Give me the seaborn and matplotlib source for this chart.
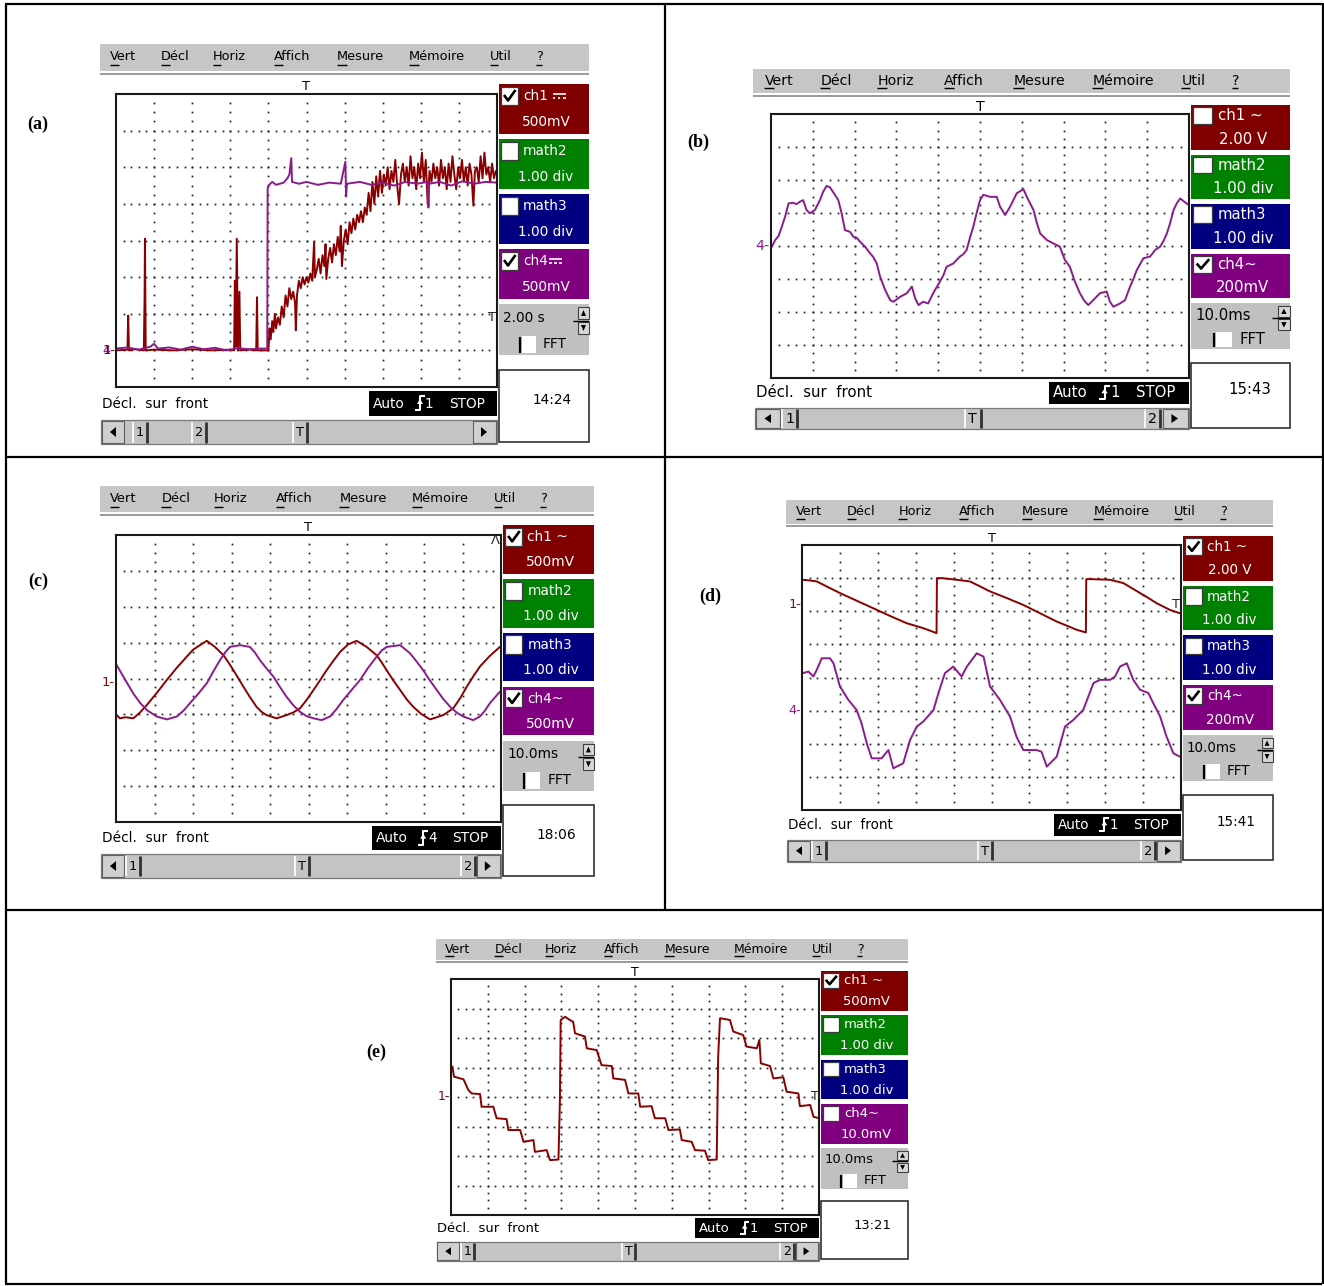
import numpy as np
import pandas as pd
import matplotlib
matplotlib.use("Agg")
import matplotlib.pyplot as plt
import seaborn as sns
from matplotlib.patches import Rectangle, Polygon
from matplotlib.textpath import TextPath
from matplotlib.font_manager import FontProperties

sns.set_style("white")
plt.rcParams["font.family"] = ["DejaVu Sans", "Noto Sans", "Noto Sans CJK SC"]

W, H = 1324, 1286

# ------------------------------------------------------------------ data
menu_items = ["Vert", "Décl", "Horiz", "Affich", "Mesure", "Mémoire", "Util", "?"]
panel_labels = ["(a)", "(b)", "(c)", "(d)", "(e)"]
clock_times = ["14:24", "15:43", "18:06", "15:41", "13:21"]
timebases = ["2.00 s", "10.0ms", "10.0ms", "10.0ms", "10.0ms"]
ch1_names = ["ch1", "ch1 ~", "ch1 ~", "ch1 ~", "ch1 ~"]
ch1_dc = [True, False, False, False, False]
ch1_scales = ["500mV", "2.00 V", "500mV", "2.00 V", "500mV"]
ch4_names = ["ch4", "ch4~", "ch4~", "ch4~", "ch4~"]
ch4_dc = [True, False, False, False, False]
ch4_scales = ["500mV", "200mV", "500mV", "200mV", "10.0mV"]
math_names = ["math2", "math3"]
math_scale = "1.00 div"
ch1_on = [True, False, True, True, True]
ch4_on = [True, True, True, True, False]
trig_src = ["1", "1", "4", "1", "1"]
status_text = "Décl.  sur  front"
mode_text = ["Auto", "STOP"]

# traces: (time in divisions, level in divisions from bottom)
a_ch4 = [(0, 1.05), (0.3, 1.08), (0.6, 1.02), (0.9, 1.1), (1.0, 1.18), (1.1, 1.05), (1.4, 1.08),
         (1.7, 1.02), (2.0, 1.1), (2.3, 1.03), (2.6, 1.07), (2.9, 1.0), (3.2, 1.06), (3.5, 1.03),
         (3.8, 1.05), (3.97, 1.05), (3.98, 5.4), (4.0, 5.5), (4.1, 5.6), (4.2, 5.52), (4.4, 5.58),
         (4.5, 5.7), (4.55, 5.8), (4.6, 6.25), (4.62, 5.6), (4.8, 5.55), (5.0, 5.6), (5.3, 5.52),
         (5.6, 5.58), (5.9, 5.55), (6.02, 6.15), (6.04, 5.2), (6.06, 5.55), (6.4, 5.6), (6.7, 5.52),
         (7.0, 5.58), (7.3, 5.5), (7.6, 5.6), (7.9, 5.55), (8.18, 5.6), (8.2, 4.9), (8.22, 5.55),
         (8.5, 5.6), (8.8, 5.5), (9.1, 5.62), (9.4, 5.55), (9.7, 5.6), (10.0, 5.58)]
a_ch1 = [(0, 1.0), (0.3, 1.02), (0.32, 1.95), (0.34, 1.0), (0.5, 1.03), (0.73, 1.0), (0.75, 2.45),
         (0.76, 4.05), (0.78, 1.0), (1.0, 1.02), (1.5, 1.0), (2.0, 1.03), (2.5, 1.0), (3.0, 1.02),
         (3.1, 1.0), (3.12, 2.9), (3.14, 1.1), (3.17, 4.05), (3.2, 1.0), (3.24, 2.6), (3.26, 1.0),
         (3.5, 1.02), (3.68, 1.0), (3.7, 2.45), (3.72, 1.0), (4.0, 1.0),
         (4.03, 1.6), (4.06, 1.3), (4.10, 1.8), (4.13, 1.5), (4.17, 2.0), (4.20, 1.6), (4.25, 1.9),
         (4.30, 1.7), (4.35, 2.2), (4.40, 1.9), (4.45, 2.5), (4.50, 2.2), (4.55, 2.7), (4.60, 2.4),
         (4.65, 2.6), (4.70, 2.3), (4.72, 1.55), (4.75, 2.5), (4.80, 2.9), (4.85, 2.7), (4.90, 3.0),
         (4.95, 2.8), (5.00, 3.0), (5.05, 2.85), (5.10, 3.1), (5.15, 2.9), (5.20, 3.97), (5.22, 3.0),
         (5.27, 3.2), (5.32, 3.5), (5.37, 3.1), (5.42, 3.6), (5.47, 3.3), (5.50, 3.9), (5.52, 2.95),
         (5.57, 3.5), (5.62, 3.8), (5.67, 3.4), (5.72, 3.9), (5.77, 3.6), (5.82, 4.1), (5.87, 3.7),
         (5.90, 4.4), (5.93, 3.3), (5.98, 4.0), (6.03, 4.3), (6.08, 3.9), (6.13, 4.5), (6.18, 4.2),
         (6.23, 4.6), (6.28, 4.3), (6.33, 4.7), (6.38, 4.5), (6.43, 4.8), (6.48, 4.5), (6.53, 4.9),
         (6.58, 4.7), (6.63, 5.3), (6.68, 4.8), (6.73, 5.6), (6.78, 5.0), (6.83, 5.75), (6.88, 5.2),
         (6.93, 5.9), (6.98, 5.3), (7.03, 5.8), (7.08, 5.5), (7.13, 6.0), (7.18, 5.4), (7.23, 5.9),
         (7.28, 5.6), (7.33, 6.2), (7.38, 5.5), (7.43, 5.0), (7.48, 5.8), (7.53, 6.1), (7.58, 5.6),
         (7.63, 6.0), (7.68, 5.5), (7.73, 6.3), (7.78, 5.7), (7.83, 6.0), (7.88, 5.4), (7.93, 6.1),
         (7.98, 5.7), (8.03, 6.4), (8.08, 5.6), (8.13, 6.2), (8.18, 5.0), (8.23, 5.9), (8.28, 5.6),
         (8.33, 6.1), (8.38, 5.7), (8.43, 6.0), (8.48, 5.5), (8.53, 6.2), (8.58, 5.7), (8.63, 6.0),
         (8.68, 5.4), (8.73, 6.1), (8.78, 5.6), (8.83, 6.3), (8.88, 5.8), (8.93, 5.4), (8.98, 6.0),
         (9.03, 5.7), (9.08, 6.2), (9.13, 5.6), (9.18, 6.0), (9.23, 5.5), (9.28, 6.1), (9.33, 5.8),
         (9.38, 4.95), (9.42, 5.9), (9.47, 6.0), (9.52, 5.6), (9.57, 6.3), (9.62, 5.7), (9.67, 6.4),
         (9.72, 5.8), (9.77, 6.0), (9.82, 5.6), (9.87, 6.1), (9.92, 5.7), (9.97, 5.9), (10.0, 5.8)]
b_ch4 = [(0.0, 3.93), (0.1, 4.18), (0.18, 4.3), (0.26, 4.59), (0.34, 4.9), (0.42, 5.29), (0.53, 5.31),
         (0.61, 5.27), (0.69, 5.34), (0.77, 5.39), (0.85, 5.09), (0.93, 4.99), (1.05, 5.09), (1.17, 5.39),
         (1.25, 5.65), (1.33, 5.82), (1.41, 5.78), (1.53, 5.55), (1.61, 5.39), (1.69, 4.99), (1.77, 4.48),
         (1.89, 4.43), (1.97, 4.28), (2.05, 4.25), (2.13, 4.13), (2.25, 3.98), (2.37, 3.78), (2.45, 3.66),
         (2.53, 3.47), (2.61, 3.07), (2.73, 2.67), (2.85, 2.36), (2.93, 2.31), (3.09, 2.46), (3.25, 2.57),
         (3.37, 2.77), (3.45, 2.41), (3.53, 2.21), (3.64, 2.31), (3.76, 2.26), (3.88, 2.57), (4.04, 2.92),
         (4.12, 3.1), (4.2, 3.37), (4.36, 3.47), (4.52, 3.68), (4.6, 3.75), (4.68, 3.88), (4.76, 4.25),
         (4.84, 4.59), (4.92, 5.0), (5.0, 5.39), (5.08, 5.55), (5.24, 5.49), (5.4, 5.49), (5.48, 5.19),
         (5.6, 4.94), (5.72, 5.19), (5.88, 5.6), (6.04, 5.72), (6.12, 5.49), (6.28, 5.09), (6.36, 4.7),
         (6.44, 4.38), (6.6, 4.18), (6.75, 4.08), (6.91, 3.98), (7.03, 3.58), (7.15, 3.37), (7.27, 2.92),
         (7.39, 2.57), (7.49, 2.35), (7.59, 2.21), (7.71, 2.36), (7.87, 2.57), (8.03, 2.62), (8.11, 2.31),
         (8.19, 2.16), (8.35, 2.26), (8.47, 2.36), (8.59, 2.77), (8.67, 3.0), (8.75, 3.27), (8.91, 3.63),
         (9.07, 3.68), (9.19, 3.88), (9.31, 3.98), (9.39, 4.15), (9.47, 4.38), (9.55, 4.7), (9.63, 5.09),
         (9.71, 5.3), (9.79, 5.44), (9.94, 5.29), (10.0, 5.25)]
c_ch1 = [(0.02, 2.98), (0.1, 2.89), (0.25, 2.92), (0.45, 2.89), (0.62, 3.05), (0.8, 3.26), (1.06, 3.6),
         (1.32, 3.96), (1.58, 4.3), (1.84, 4.61), (2.0, 4.8), (2.18, 4.93), (2.36, 5.05), (2.57, 4.88),
         (2.79, 4.65), (2.92, 4.45), (3.05, 4.23), (3.18, 4.0), (3.31, 3.77), (3.48, 3.48), (3.65, 3.21),
         (3.78, 3.07), (3.91, 2.98), (4.17, 2.89), (4.43, 2.98), (4.6, 3.05), (4.78, 3.17), (4.95, 3.4),
         (5.13, 3.68), (5.3, 3.95), (5.47, 4.23), (5.65, 4.5), (5.82, 4.74), (6.03, 4.95), (6.25, 5.05),
         (6.51, 4.88), (6.77, 4.65), (6.9, 4.45), (7.03, 4.23), (7.2, 3.95), (7.38, 3.68), (7.55, 3.42),
         (7.72, 3.21), (7.94, 3.0), (8.16, 2.86), (8.5, 2.98), (8.76, 3.17), (8.94, 3.45), (9.11, 3.77),
         (9.28, 4.06), (9.45, 4.33), (9.7, 4.62), (9.97, 4.88)]
c_ch4 = [(0.02, 4.37), (0.23, 3.98), (0.45, 3.58), (0.62, 3.33), (0.8, 3.12), (1.06, 2.94), (1.32, 2.86),
         (1.58, 2.94), (1.75, 3.1), (1.92, 3.31), (2.14, 3.58), (2.36, 3.87), (2.53, 4.2), (2.7, 4.51),
         (2.83, 4.72), (2.96, 4.88), (3.22, 4.93), (3.48, 4.88), (3.61, 4.72), (3.74, 4.51), (3.91, 4.28),
         (4.09, 4.05), (4.26, 3.76), (4.43, 3.49), (4.6, 3.26), (4.78, 3.07), (4.95, 2.95), (5.13, 2.89),
         (5.34, 2.84), (5.56, 2.94), (5.73, 3.15), (5.9, 3.4), (6.12, 3.68), (6.34, 3.96), (6.55, 4.3),
         (6.77, 4.61), (6.9, 4.78), (7.03, 4.88), (7.38, 4.93), (7.64, 4.7), (7.81, 4.47), (7.98, 4.23),
         (8.15, 3.95), (8.33, 3.68), (8.5, 3.43), (8.68, 3.21), (8.85, 3.05), (9.02, 2.94), (9.28, 2.84),
         (9.45, 2.94), (9.58, 3.1), (9.71, 3.31), (9.97, 3.63)]
d_ch1 = [(0.02, 6.95), (0.2, 6.93), (0.39, 6.9), (0.7, 6.72), (1.0, 6.55), (1.44, 6.32), (1.88, 6.09),
         (2.32, 5.86), (2.76, 5.64), (3.2, 5.49), (3.55, 5.34), (3.56, 7.0), (3.69, 7.0), (4.08, 6.95),
         (4.43, 6.9), (4.7, 6.75), (4.96, 6.6), (5.4, 6.4), (5.84, 6.19), (6.28, 5.94), (6.72, 5.69),
         (7.25, 5.44), (7.49, 5.36), (7.5, 6.97), (7.6, 6.97), (8.13, 6.95), (8.48, 6.85), (8.7, 6.7),
         (8.92, 6.55), (9.14, 6.4), (9.36, 6.24), (9.71, 6.04), (9.97, 5.94)]
d_ch4 = [(0.02, 4.13), (0.17, 4.18), (0.3, 4.03), (0.39, 4.23), (0.52, 4.58), (0.74, 4.58), (0.83, 4.43),
         (1.0, 3.73), (1.22, 3.33), (1.44, 3.02), (1.57, 2.62), (1.71, 2.01), (1.84, 1.56), (2.1, 1.56),
         (2.28, 1.81), (2.41, 1.26), (2.67, 1.41), (2.85, 2.11), (3.03, 2.52), (3.2, 2.67), (3.47, 3.02),
         (3.6, 3.53), (3.77, 4.13), (3.99, 4.33), (4.21, 4.03), (4.35, 4.33), (4.61, 4.73), (4.79, 4.63),
         (4.96, 3.73), (5.22, 3.33), (5.49, 2.82), (5.66, 2.21), (5.84, 1.81), (6.19, 1.81), (6.32, 1.76),
         (6.46, 1.31), (6.72, 1.61), (6.94, 2.52), (7.16, 2.72), (7.42, 3.02), (7.69, 3.83), (7.86, 3.93),
         (8.13, 3.93), (8.26, 4.03), (8.39, 4.33), (8.57, 4.43), (8.74, 3.93), (8.92, 3.63), (9.14, 3.53),
         (9.27, 3.22), (9.45, 2.82), (9.62, 2.21), (9.8, 1.71), (9.97, 1.61)]
e_ch1 = [(0.04, 5.03), (0.08, 4.69), (0.34, 4.60), (0.47, 4.24), (0.56, 4.12), (0.79, 4.10), (0.83, 3.67),
         (1.15, 3.67), (1.24, 3.28), (1.51, 3.25), (1.56, 2.88), (1.88, 2.88), (1.97, 2.48), (2.24, 2.54),
         (2.28, 2.14), (2.60, 2.20), (2.69, 1.86), (2.92, 1.88), (2.96, 3.90), (2.98, 6.61), (3.10, 6.72),
         (3.23, 6.61), (3.32, 6.55), (3.37, 6.16), (3.64, 6.05), (3.69, 5.65), (3.96, 5.59), (4.09, 5.08),
         (4.37, 5.05), (4.41, 4.63), (4.73, 4.58), (4.82, 4.12), (5.09, 4.12), (5.14, 3.67), (5.45, 3.69),
         (5.54, 3.28), (5.82, 3.28), (5.91, 2.88), (6.22, 2.90), (6.27, 2.54), (6.54, 2.48), (6.63, 2.20),
         (6.90, 2.18), (6.99, 1.86), (7.22, 1.88), (7.26, 5.37), (7.31, 6.67), (7.58, 6.61), (7.67, 6.22),
         (7.94, 6.10), (8.03, 5.71), (8.31, 5.65), (8.38, 5.93), (8.42, 5.14), (8.67, 5.05), (8.76, 4.63),
         (9.03, 4.67), (9.12, 4.18), (9.44, 4.12), (9.48, 3.69), (9.76, 3.73), (9.85, 3.33), (10.0, 3.28)]

# channel offset markers (label, level in div) and trigger markers
left_marks = [[("4-", 1.0, "ch4"), ("1-", 1.0, "ch1")], [("4-", 4.0, "ch4")], [("1-", 3.9, "ch1")],
              [("1-", 6.2, "ch1"), ("4-", 3.0, "ch4")], [("1-", 4.0, "ch1")]]
right_marks = [[("T", 1.9)], [], [("Λ", 7.85)], [("T", 6.2)], [("T", 4.0)]]
scroll_marks = [[("1", 24), ("2", 83), ("T", 184)]] + [[("1", 17), ("T", 184), ("2", 348)]] * 4

# ------------------------------------------------------------------ layout (pixels)
plot_rects = [(116, 497, 94, 387), (771, 1189, 114, 378), (116, 501, 535, 822),
              (802, 1181, 545, 810), (451, 819, 979, 1215)]
label_pos = [(38, 124), (698, 142), (38, 581), (710, 596), (376, 1052)]
menu_x = [-6, 45, 97, 158, 221, 293, 374, 420]
trace_colors = {"ch1": "#8a0000", "ch4": "#8b1a8b"}
box_colors = ["#800000", "#008000", "#000080", "#800080"]
panel_traces = [[(a_ch1, "ch1"), (a_ch4, "ch4")], [(b_ch4, "ch4")], [(c_ch1, "ch1"), (c_ch4, "ch4")],
                [(d_ch1, "ch1"), (d_ch4, "ch4")], [(e_ch1, "ch1")]]

fig = plt.figure(figsize=(W / 100, H / 100), dpi=100)
bg = fig.add_axes([0, 0, 1, 1], zorder=0)
bg.set_xlim(0, W)
bg.set_ylim(H, 0)
bg.set_autoscale_on(False)
bg.axis("off")

FP = FontProperties(family="DejaVu Sans")


def text_w(s, fs):
    ext = TextPath((0, 0), s, size=fs, prop=FP).get_extents()
    return ext.x1 * 100 / 72.0


def rect(x0, y0, x1, y1, fc, ec="none", lw=0.0, z=1):
    bg.add_patch(Rectangle((x0, y0), x1 - x0, y1 - y0, facecolor=fc, edgecolor=ec, linewidth=lw, zorder=z))


def line(xs, ys, c="black", lw=1.0, z=3, ls="-"):
    bg.plot(xs, ys, color=c, lw=lw, zorder=z, solid_capstyle="butt", ls=ls)


def txt(x, y, s, fs, c="black", ha="left", va="center", **kw):
    bg.text(x, y, s, fontsize=fs, color=c, ha=ha, va=va, zorder=6, **kw)


def tri(pts, c="black"):
    bg.add_patch(Polygon(pts, closed=True, facecolor=c, edgecolor="none", zorder=5))


def dc_symbol(x, y, w, c):
    # direct-current sign: solid bar over a dashed bar
    line([x, x + w], [y - 2, y - 2], c, 1.2, z=7)
    seg = w / 5.0
    for k in range(3):
        line([x + 2 * k * seg, x + (2 * k + 1) * seg], [y + 1.5, y + 1.5], c, 1.2, z=7)


for i in range(5):
    px0, px1, py0, py1 = plot_rects[i]
    sx = (px1 - px0) / 381.0
    sy = (py1 - py0) / 293.0
    X = lambda r: px0 + r * sx
    Y = lambda r: py0 + r * sy
    fm = 9.3 * sx
    fb = 9.8 * sx
    ypix = lambda d: py1 - d * (py1 - py0) / 8.0

    # menu bar
    rect(X(-16), Y(-50), X(473), Y(-23), "#c6c6c6")
    line([X(-16), X(473)], [Y(-22), Y(-22)], "#ffffff", 1.0)
    line([X(-16), X(473)], [Y(-20.5), Y(-20.5)], "#9a9a9a", 1.4)
    for name, rx in zip(menu_items, menu_x):
        txt(X(rx), Y(-37), name, fm)
        w = text_w(name[0], fm)
        line([X(rx), X(rx) + w], [Y(-29), Y(-29)], "black", 1.0)

    # trigger position mark
    txt((px0 + px1) / 2, py0 - 7.5 * sy, "T", fm, ha="center")

    # screen
    ax = fig.add_axes([px0 / W, 1 - py1 / H, (px1 - px0) / W, (py1 - py0) / H], zorder=2)
    ax.set_facecolor("white")
    gx, gy = [], []
    for vx in range(1, 10):
        for k in range(1, 32):
            gx.append(vx)
            gy.append(k * 0.25)
    for hy in range(1, 8):
        for k in range(1, 50):
            gx.append(k * 0.2)
            gy.append(hy)
    ax.plot(gx, gy, ls="none", marker="s", ms=1.25, mew=0, color="#202020")
    for pts, ch in panel_traces[i]:
        df = pd.DataFrame(pts, columns=["t", "v"])
        sns.lineplot(data=df, x="t", y="v", sort=False, estimator=None, color=trace_colors[ch],
                     lw=1.4, ax=ax, legend=False)
    ax.set_xlim(0, 10)
    ax.set_ylim(0, 8)
    ax.set_xticks([])
    ax.set_yticks([])
    ax.set_xlabel("")
    ax.set_ylabel("")
    for s in ax.spines.values():
        s.set_visible(True)
        s.set_linewidth(1.5)
        s.set_color("#1a1a1a")
    for lab, lev in right_marks[i]:
        ax.text(9.98, lev, lab, fontsize=fm, ha="right", va="center", clip_on=False, zorder=8)

    for lab, lev, ch in left_marks[i]:
        txt(px0 - 1, ypix(lev), lab, fm, trace_colors[ch], ha="right")

    # channel boxes
    tops = [-10, 45, 100, 155]
    names = [ch1_names[i], math_names[0], math_names[1], ch4_names[i]]
    dcs = [ch1_dc[i], False, False, ch4_dc[i]]
    vals = [ch1_scales[i], math_scale, math_scale, ch4_scales[i]]
    checks = [ch1_on[i], False, False, ch4_on[i]]
    for t, c, n, dc, v, chk in zip(tops, box_colors, names, dcs, vals, checks):
        rect(X(383), Y(t), X(473), Y(t + 49.5), c)
        rect(X(385), Y(t + 2.5), X(402), Y(t + 21), "white", "#3a3a3a", 0.9, z=2)
        if chk:
            line([X(388), X(392), X(399.5)], [Y(t + 11), Y(t + 16.5), Y(t + 6)], "black", 1.9, z=4)
        txt(X(407), Y(t + 12), n, fb, "white")
        if dc:
            gap = 6 if n == "ch1" else 2
            dc_symbol(X(407) + text_w(n, fb) + gap, Y(t + 12), 13 * sx, "white")
        txt(X(430), Y(t + 38), v, fb, "white", ha="center")

    # timebase box
    rect(X(383), Y(210), X(473), Y(261), "#c0c0c0")
    txt(X(387), Y(224), timebases[i], fb)
    rect(X(462), Y(213), X(473), Y(225), "#d8d8d8", "#404040", 0.8, z=2)
    rect(X(462), Y(228), X(473), Y(240), "#d8d8d8", "#404040", 0.8, z=2)
    line([X(457), X(473)], [Y(226.5), Y(226.5)], "black", 1.0)
    tri([(X(465), Y(222)), (X(470), Y(222)), (X(467.5), Y(216))])
    tri([(X(465), Y(231)), (X(470), Y(231)), (X(467.5), Y(237))])
    line([X(404), X(404)], [Y(243), Y(259)], "black", 1.6)
    rect(X(406), Y(242), X(420), Y(259), "white", z=2)
    txt(X(427), Y(250), "FFT", fb)

    # clock box
    rect(X(383), Y(276), X(473), Y(348), "white", "#303030", 1.2, z=2)
    txt(X(436), Y(306), clock_times[i], fb, ha="center")

    # status line
    txt(X(-14), Y(309.5), status_text, fb)
    rect(X(253), Y(297), X(381), Y(322), "black", z=2)
    txt(X(257), Y(309.5), mode_text[0], fb, "white")
    line([X(299), X(304), X(304), X(309)], [Y(316), Y(316), Y(302), Y(302)], "white", 1.5, z=4)
    tri([(X(301), Y(310)), (X(307), Y(310)), (X(304), Y(305))], "white")
    txt(X(309), Y(309.5), trig_src[i], fb, "white")
    txt(X(333), Y(309.5), mode_text[1], fb, "white")

    # scroll bar
    rect(X(-15), Y(326), X(381), Y(350), "#c4c4c4", "#7a7a7a", 0.9)
    rect(X(-14), Y(327), X(8), Y(349), "#d0d0d0", "#606060", 0.8, z=2)
    rect(X(357), Y(327), X(380), Y(349), "#d0d0d0", "#606060", 0.8, z=2)
    tri([(X(-6), Y(338)), (X(0), Y(333)), (X(0), Y(343))])
    tri([(X(371), Y(338)), (X(365), Y(333)), (X(365), Y(343))])
    for lab, rx in scroll_marks[i]:
        line([X(rx - 7), X(rx - 7)], [Y(327.5), Y(348.5)], "white", 1.2)
        line([X(rx + 7), X(rx + 7)], [Y(327.5), Y(348.5)], "#303030", 2.0)
        txt(X(rx), Y(338.5), lab, fm, ha="center")

    # panel label
    lx, ly = label_pos[i]
    txt(lx, ly, panel_labels[i], 13, ha="center", fontweight="bold", family=["Liberation Serif"])

# table borders
line([5, 1322], [3.5, 3.5], "black", 1.6)
line([5.5, 5.5], [3, 1284], "black", 1.6)
line([1322.5, 1322.5], [3, 1284], "black", 1.6)
line([5, 1322], [1283.5, 1283.5], "black", 1.6)
line([665, 665], [3, 910], "black", 1.6)
line([5, 1322], [457, 457], "black", 1.6)
line([5, 1322], [910, 910], "black", 1.6)

fig.savefig("out.png", dpi=100)
